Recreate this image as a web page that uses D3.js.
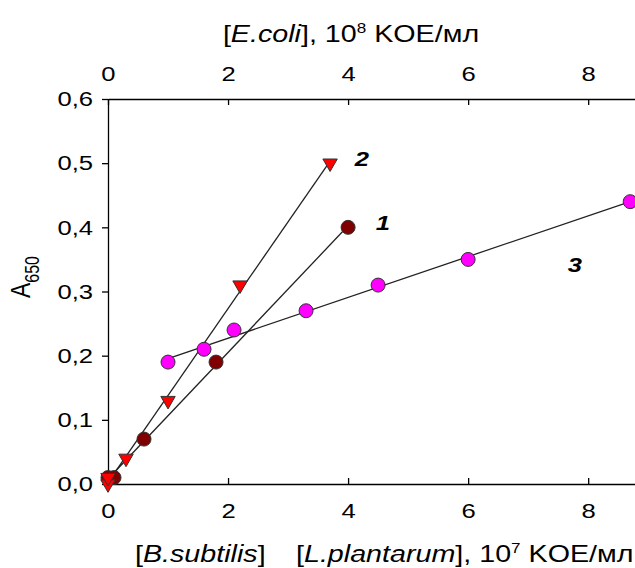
<!DOCTYPE html>
<html>
<head>
<meta charset="utf-8">
<script src="https://cdn.jsdelivr.net/npm/d3@7"></script>
<style>
  body { margin: 0; background: #fff; }
  svg text { font-family: "Liberation Sans", Arial, sans-serif; fill: #000; }
</style>
</head>
<body>
<script>
// curve 1 - B.subtilis
const s1x = [0, 0.1, 0.6, 1.8, 4.0];
const s1y = [0.01, 0.01, 0.07, 0.19, 0.40];
// curve 2 - E.coli
const s2x = [0, 0, 0.3, 1.0, 2.2, 3.7];
const s2y = [0, 0.01, 0.04, 0.13, 0.31, 0.50];
// curve 3 - L.plantarum
const s3x = [1.0, 1.6, 2.1, 3.3, 4.5, 6.0, 8.7];
const s3y = [0.19, 0.21, 0.24, 0.27, 0.31, 0.35, 0.44];

const xTicks = [0, 2, 4, 6, 8];
const yTicks = [0, 0.1, 0.2, 0.3, 0.4, 0.5, 0.6];

const width = 635, height = 568;
const margin = {top: 99, right: 0, bottom: 84, left: 108};
const stretch = 1.22; // the source picture is widened a little

const svg = d3.select("body").append("svg")
  .attr("width", width)
  .attr("height", height);

const x = d3.scaleLinear().domain([0, 8.78]).range([margin.left, width - margin.right]);
const y = d3.scaleLinear().domain([0, 0.6]).range([height - margin.bottom, margin.top]);

const fmt = d => d3.format(".1f")(d).replace(".", ",");

// bottom axis, ticks inside
const gx = svg.append("g")
  .attr("transform", "translate(0," + y(0) + ")")
  .call(d3.axisBottom(x).tickValues(xTicks).tickSizeInner(-6).tickSizeOuter(0).tickPadding(19));
// top axis
const gt = svg.append("g")
  .attr("transform", "translate(0," + y(0.6) + ")")
  .call(d3.axisTop(x).tickValues(xTicks).tickSizeInner(-6).tickSizeOuter(0).tickPadding(18));
// left axis, ticks outside
const gy = svg.append("g")
  .attr("transform", "translate(" + x(0) + ",0)")
  .call(d3.axisLeft(y).tickValues(yTicks).tickFormat(fmt).tickSizeInner(6).tickSizeOuter(0).tickPadding(9));

[gx, gt, gy].forEach(g => {
  g.selectAll("line, path").attr("stroke", "#000").attr("stroke-width", 1.3);
  g.selectAll("text").each(function() {
    const t = d3.select(this);
    const tx = +t.attr("x") || 0, ty = +t.attr("y") || 0;
    t.attr("x", 0).attr("y", 0)
      .attr("transform", "translate(" + tx + "," + ty + ") scale(" + stretch + ",1)")
      .style("font-size", "21px")
      .attr("fill", "#000");
  });
});

// regression lines
function fit(xs, ys) {
  const mx = d3.mean(xs), my = d3.mean(ys);
  let num = 0, den = 0;
  xs.forEach((v, i) => { num += (v - mx) * (ys[i] - my); den += (v - mx) * (v - mx); });
  const b = num / den, a = my - b * mx;
  const x0 = d3.min(xs), x1 = d3.max(xs);
  return [[x0, a + b * x0], [x1, a + b * x1]];
}

const series = [
  {xs: s1x, ys: s1y, color: "#800000", shape: "circle"},
  {xs: s2x, ys: s2y, color: "#ff0000", shape: "triangle"},
  {xs: s3x, ys: s3y, color: "#ff00ff", shape: "circle"}
];

const line = d3.line().x(d => x(d[0])).y(d => y(d[1]));

series.forEach(s => {
  svg.append("path")
    .attr("d", line(fit(s.xs, s.ys)))
    .attr("fill", "none")
    .attr("stroke", "#222")
    .attr("stroke-width", 1.3);
});

series.forEach(s => {
  const pts = s.xs.map((v, i) => [v, s.ys[i]]);
  if (s.shape === "circle") {
    svg.append("g").selectAll("circle")
      .data(pts).enter().append("circle")
      .attr("cx", d => x(d[0]))
      .attr("cy", d => y(d[1]))
      .attr("r", 7)
      .attr("fill", s.color)
      .attr("stroke", "#333")
      .attr("stroke-width", 1);
  } else {
    const sym = d3.symbol().type(d3.symbolTriangle).size(90);
    svg.append("g").selectAll("path")
      .data(pts).enter().append("path")
      .attr("d", sym)
      .attr("transform", d => "translate(" + x(d[0]) + "," + y(d[1]) + ") rotate(180)")
      .attr("fill", s.color)
      .attr("stroke", "#333")
      .attr("stroke-width", 1);
  }
});

// curve numbers
const labels = [{t: "2", xv: 4.23, yv: 0.496}, {t: "1", xv: 4.58, yv: 0.396}, {t: "3", xv: 7.78, yv: 0.33}];
svg.append("g").selectAll("text")
  .data(labels).enter().append("text")
  .attr("transform", d => "translate(" + x(d.xv) + "," + y(d.yv) + ") scale(" + stretch + ",1)")
  .attr("text-anchor", "middle")
  .style("font-size", "21px")
  .style("font-weight", "bold")
  .style("font-style", "italic")
  .text(d => d.t);

// axis titles
function title(px, py, anchor) {
  return svg.append("text")
    .attr("transform", "translate(" + px + "," + py + ") scale(" + stretch + ",1)")
    .attr("text-anchor", anchor)
    .style("font-size", "23.5px");
}

const topTitle = title(351, 42, "middle");
topTitle.append("tspan").text("[");
topTitle.append("tspan").style("font-style", "italic").text("E.coli");
topTitle.append("tspan").text("], 10");
topTitle.append("tspan").attr("dy", -9).style("font-size", "14px").text("8");
topTitle.append("tspan").attr("dy", 9).text(" KOE/мл");

const b1 = title(135, 562, "start");
b1.append("tspan").text("[");
b1.append("tspan").style("font-style", "italic").text("B.subtilis");
b1.append("tspan").text("]");

const b2 = title(296, 562, "start");
b2.append("tspan").text("[");
b2.append("tspan").style("font-style", "italic").text("L.plantarum");
b2.append("tspan").text("], 10");
b2.append("tspan").attr("dy", -9).style("font-size", "14px").text("7");
b2.append("tspan").attr("dy", 9).text(" KOE/мл");

const yl = svg.append("text")
  .attr("transform", "translate(30,277) scale(" + stretch + ",1) rotate(-90)")
  .attr("text-anchor", "middle")
  .style("font-size", "23px");
yl.append("tspan").text("A");
yl.append("tspan").attr("dy", 7).style("font-size", "16px").text("650");
</script>
</body>
</html>
